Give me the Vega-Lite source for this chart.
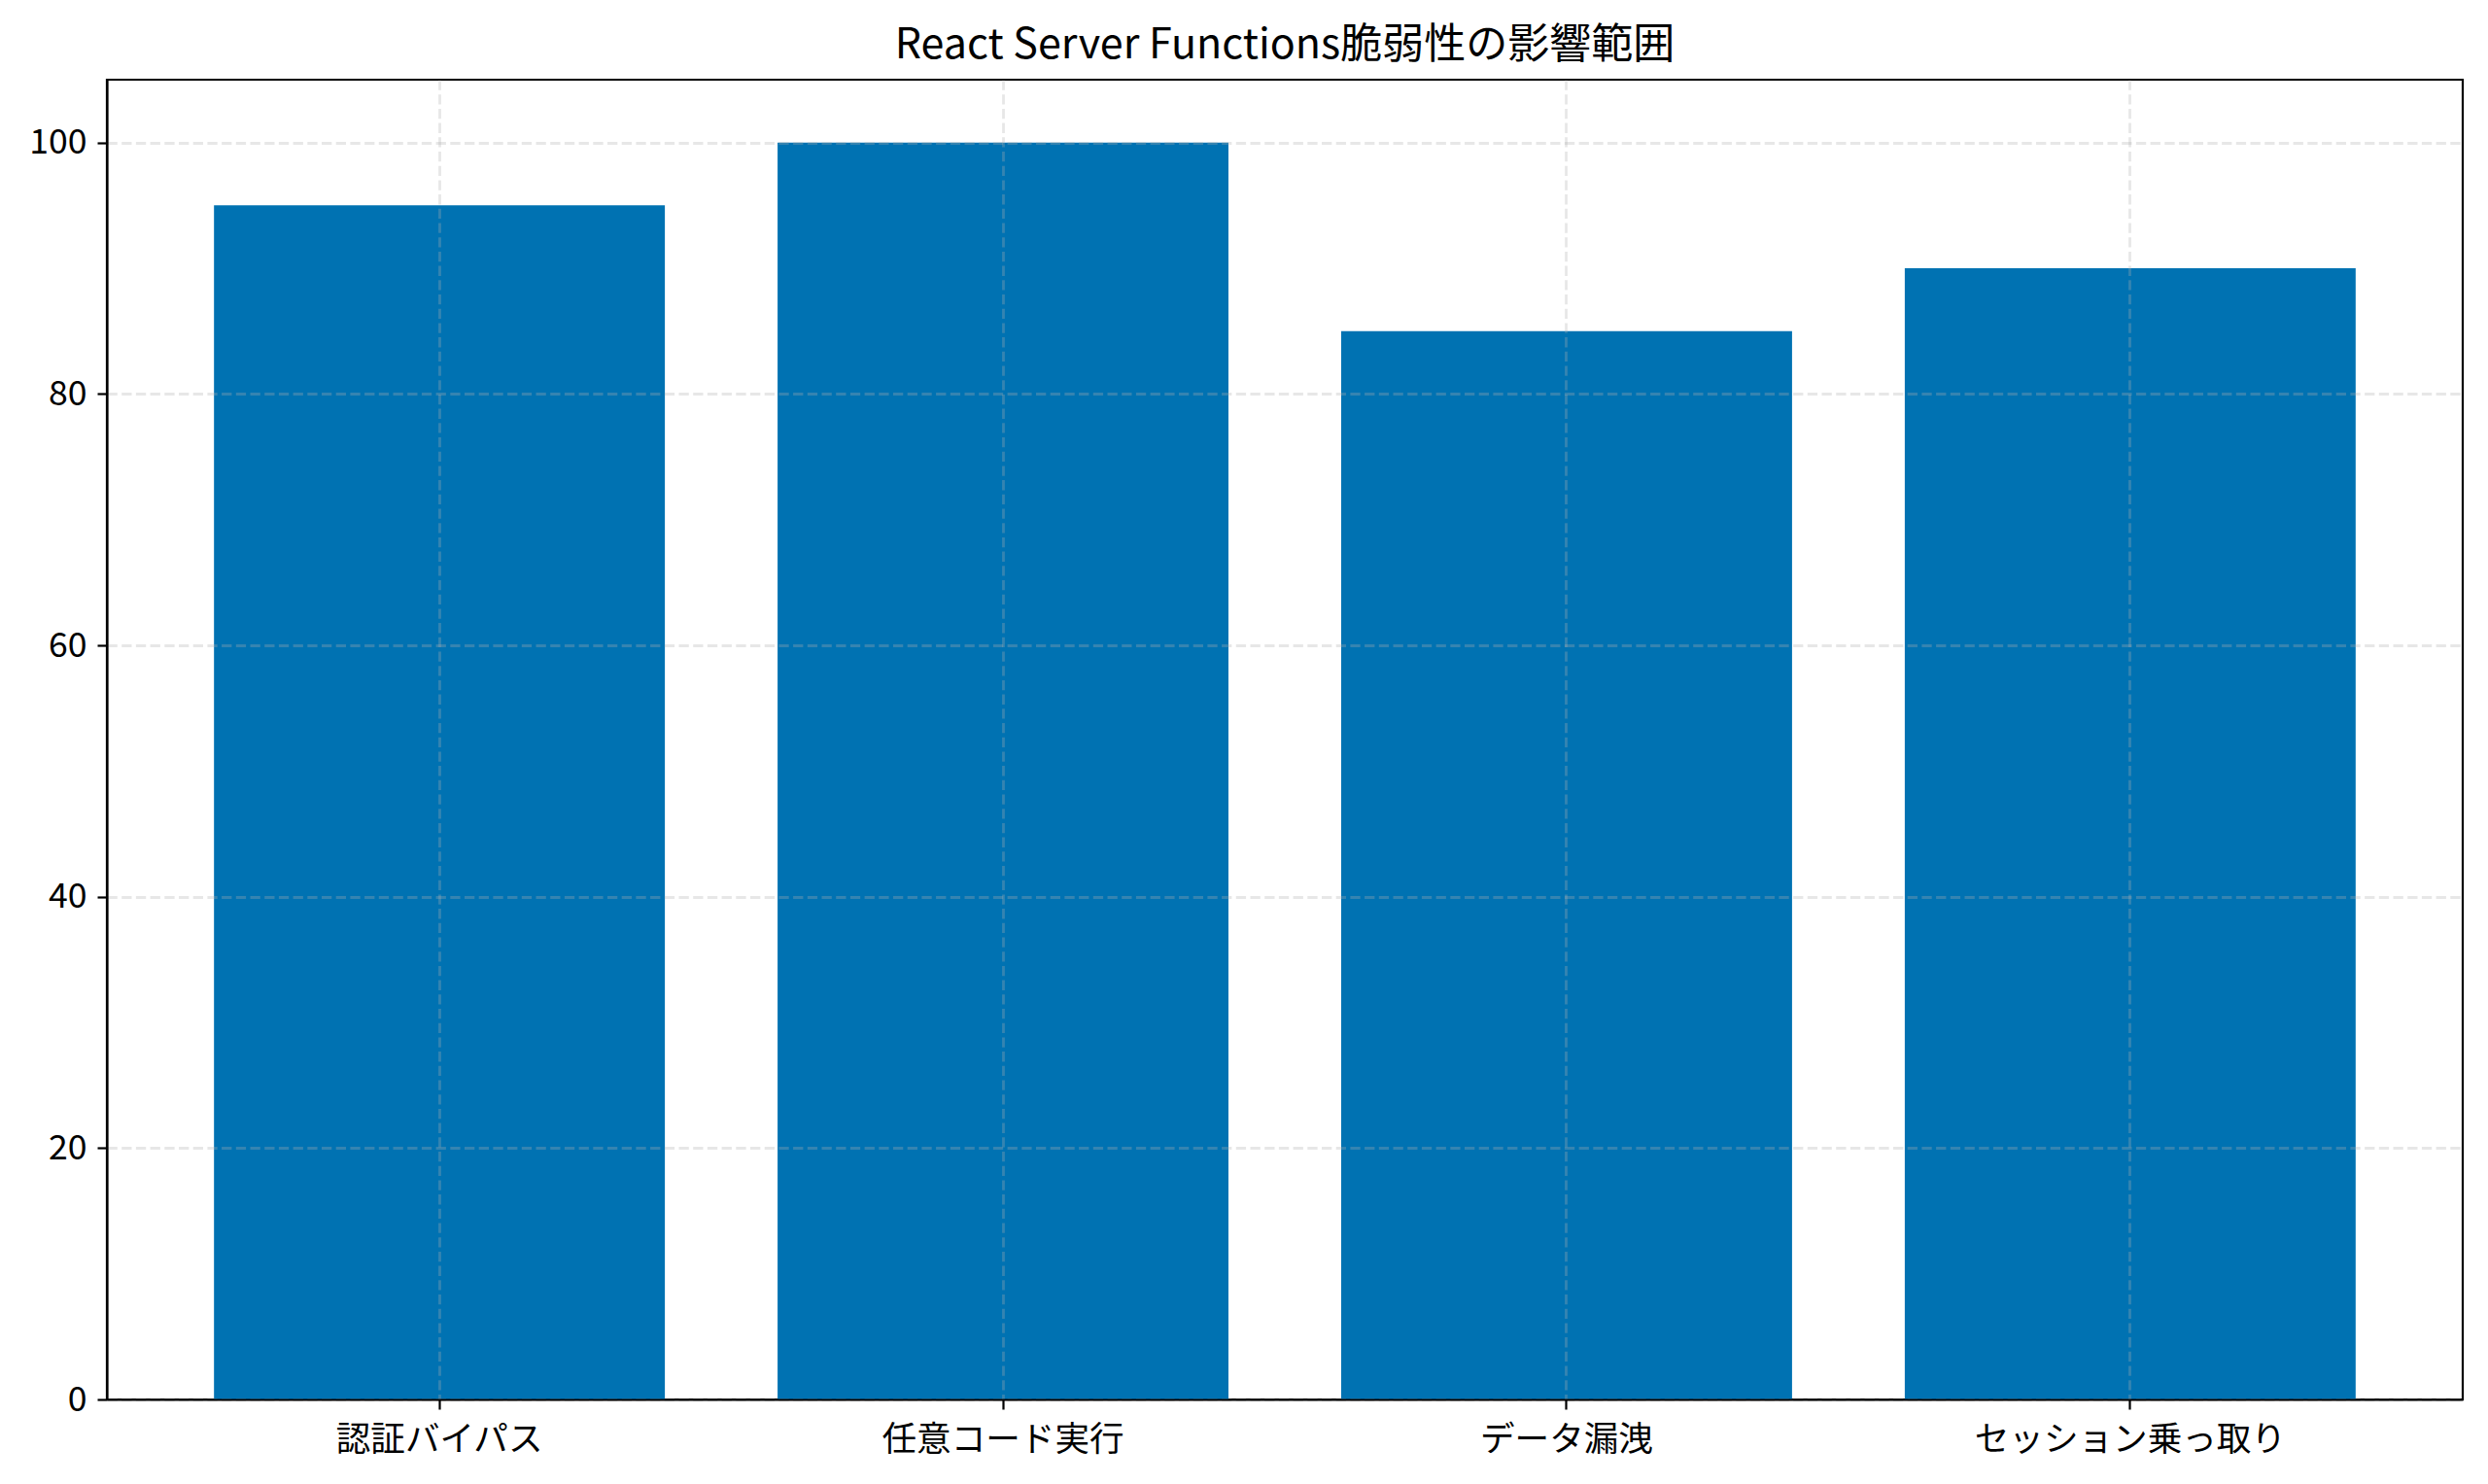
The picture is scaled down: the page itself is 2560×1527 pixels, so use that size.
{
  "$schema": "https://vega.github.io/schema/vega-lite/v6.json",
  "description": "React Server Functions vulnerability impact scope, bar chart",
  "autosize": "none",
  "padding": {"left": 110, "top": 82, "right": 26, "bottom": 87},
  "width": 2424,
  "height": 1358,
  "background": "white",
  "title": {
    "text": "React Server Functions脆弱性の影響範囲",
    "font": "Noto Sans CJK JP",
    "fontSize": 43,
    "fontWeight": "normal",
    "color": "black",
    "anchor": "middle",
    "offset": 13
  },
  "data": {
    "values": [
      {"impact": "認証バイパス", "score": 95},
      {"impact": "任意コード実行", "score": 100},
      {"impact": "データ漏洩", "score": 85},
      {"impact": "セッション乗っ取り", "score": 90}
    ]
  },
  "mark": {"type": "bar", "color": "#0072B2"},
  "encoding": {
    "x": {
      "field": "impact",
      "type": "nominal",
      "sort": null,
      "title": null,
      "scale": {"paddingInner": 0.2, "paddingOuter": 0.19},
      "axis": {
        "bandPosition": 0.5,
        "labelAngle": 0,
        "labelPadding": 14,
        "zindex": 1
      }
    },
    "y": {
      "field": "score",
      "type": "quantitative",
      "title": null,
      "scale": {"domain": [0, 105], "nice": false, "zero": true},
      "axis": {
        "values": [0, 20, 40, 60, 80, 100],
        "labelPadding": 11,
        "zindex": 1
      }
    }
  },
  "config": {
    "view": {"stroke": "black", "strokeWidth": 2.2},
    "axis": {
      "domainColor": "black",
      "domainWidth": 2.2,
      "tickColor": "black",
      "tickWidth": 2.2,
      "tickSize": 10,
      "labelPadding": 10,
      "labelLimit": 0,
      "labelFont": "Noto Sans CJK JP",
      "labelFontSize": 35.6,
      "labelColor": "black",
      "grid": true,
      "gridColor": "#b0b0b0",
      "gridOpacity": 0.3,
      "gridWidth": 2.8,
      "gridDash": [10.3, 4.4]
    }
  }
}
